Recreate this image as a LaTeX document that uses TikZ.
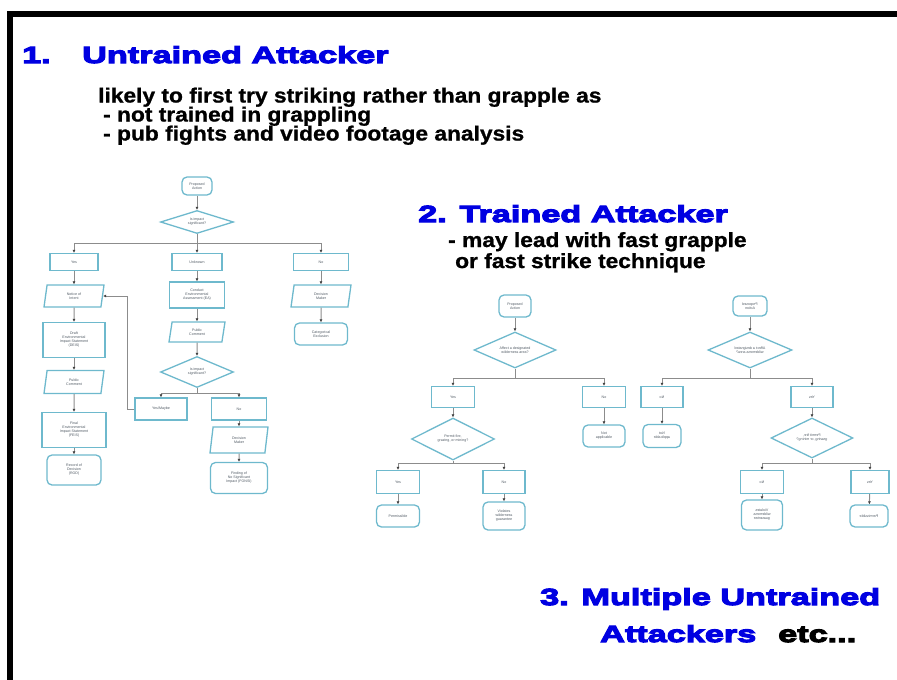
\documentclass[tikz,border=0pt]{standalone}
\usepackage{fontspec}
\setmainfont{Liberation Sans}
\newfontfamily\headfont[FakeStretch=1.47,FakeBold=5]{Liberation Sans}
\newfontfamily\bodyfont[FakeStretch=1.11,FakeBold=1]{Liberation Sans}
\newfontfamily\chartfont{Liberation Sans}
\usetikzlibrary{shapes.geometric,arrows.meta}
\definecolor{headblue}{RGB}{0,0,225}
\definecolor{flowblue}{RGB}{110,185,205}
\definecolor{linkgray}{RGB}{140,140,140}
\definecolor{flowtext}{RGB}{80,90,100}
\tikzset{
  box/.style 2 args={minimum width=#1pt, minimum height=#2pt},
  chart/.style={draw=flowblue, line width=1.3pt, fill=white, text=flowtext, align=center, inner sep=0.5pt,
    font=\chartfont\fontsize{3.6}{4}\selectfont},
  term/.style={chart, rounded corners=5pt},
  proc/.style={chart},
  io/.style={chart, trapezium, trapezium left angle=68, trapezium right angle=112, trapezium stretches body},
  decide/.style={chart, diamond, aspect=3},
  mirror/.style={xscale=-1},
  link/.style={draw=linkgray, line width=1pt},
  head/.style={anchor=base west, inner sep=0pt, text=headblue, font=\headfont\bfseries\fontsize{23.3}{28}\selectfont},
  body/.style={anchor=base west, inner sep=0pt, font=\bodyfont\bfseries\fontsize{20.5}{24}\selectfont},
  >={Latex[length=3pt,width=3pt,color=black!75]}
}
\begin{document}
\begin{tikzpicture}[x=1pt,y=1pt]
\useasboundingbox (0,0) rectangle (897,-680);
% frame
\fill (7,-11) rectangle (897,-17);
\fill (7,-11) rectangle (13,-680);
% headings and notes
\node[head] (n1) at (22,-63) {1.};
\node[head] (h1) at (82,-63) {Untrained Attacker};
\node[body] (t1) at (98,-102.5) {likely to first try striking rather than grapple as};
\node[body] (t2) at (103,-121.5) {- not trained in grappling};
\node[body] (t3) at (103,-140.5) {- pub fights and video footage analysis};
\node[head] (h2) at (418,-222) {2. Trained Attacker};
\node[body] (t4) at (448,-247) {- may lead with fast grapple};
\node[body] (t5) at (455,-268) {or fast strike technique};
\node[head] (h3) at (540,-605) {3. Multiple Untrained};
\node[head] (h4) at (600,-642) {Attackers};
\node[head, text=black] (etc) at (778,-642) {etc...};
% chart 1
\node[term, box={30}{18}] (pa1) at (197,-186) {Proposed\\Action};
\node[decide, box={73}{23}] (d1) at (197,-222) {Is impact\\significant?};
\coordinate (b1) at (197,-243);
\node[proc, box={48}{17}] (yes1) at (74,-262) {Yes};
\node[proc, box={50}{17}] (unk1) at (197,-262) {Unknown};
\node[proc, box={55}{17}] (no1) at (321,-262) {No};
\node[io, box={60}{22}] (noi) at (74,-296) {Notice of\\Intent};
\node[proc, box={62}{35}] (deis) at (74,-340) {Draft\\Environmental\\Impact Statement\\(DEIS)};
\node[io, box={60}{23}] (pub1) at (74,-382) {Public\\Comment};
\node[proc, box={64}{35}] (feis) at (74,-430) {Final\\Environmental\\Impact Statement\\(FEIS)};
\node[term, box={54}{30}] (rod) at (74,-470) {Record of\\Decision\\(ROD)};
\node[proc, box={55}{26}] (ea) at (197,-295) {Conduct\\Environmental\\Assessment (EA)};
\node[io, box={56}{20}] (pub2) at (197,-332) {Public\\Comment};
\node[decide, box={73}{31}] (d2) at (197,-372) {Is impact\\significant?};
\coordinate (b2) at (197,-393);
\node[proc, box={52}{22}] (ym) at (161,-409) {Yes/Maybe};
\node[proc, box={55}{22}] (nm) at (239,-409) {No};
\node[io, box={58}{26}] (dm1) at (239,-440) {Decision\\Maker};
\node[term, box={57}{31}] (fonsi) at (239,-478) {Finding of\\No Significant\\Impact (FONSI)};
\node[io, box={60}{22}] (dm2) at (321,-296) {Decision\\Maker};
\node[term, box={53}{22}] (cex) at (321,-334) {Categorical\\Exclusion};
\draw[link,->] (pa1.south) -- (d1.north);
\draw[link] (d1.south) -- (b1);
\draw[link,->] (b1) -| (yes1.north);
\draw[link,->] (b1) -- (unk1.north);
\draw[link,->] (b1) -| (no1.north);
\draw[link,->] (yes1) -- (noi);
\draw[link,->] (noi) -- (deis);
\draw[link,->] (deis) -- (pub1);
\draw[link,->] (pub1) -- (feis);
\draw[link,->] (feis) -- (rod);
\draw[link,->] (unk1) -- (ea);
\draw[link,->] (ea) -- (pub2);
\draw[link,->] (pub2) -- (d2);
\draw[link] (d2.south) -- (b2);
\draw[link,->] (b2) -| (ym.north);
\draw[link,->] (b2) -| (nm.north);
\draw[link,->] (nm) -- (dm1);
\draw[link,->] (dm1) -- (fonsi);
\draw[link,->] (ym.west) -- ++(-7,0) |- (noi.east);
\draw[link,->] (no1) -- (dm2);
\draw[link,->] (dm2) -- (cex);
% chart 2
\node[term, box={32}{22}] (pa2) at (515,-306) {Proposed\\Action};
\node[decide, box={82}{36}] (d3) at (515,-350) {Affect a designated\\wilderness area?};
\coordinate (b3) at (515,-378);
\node[proc, box={43}{21}] (yes2) at (453,-397) {Yes};
\node[proc, box={43}{21}] (no2) at (604,-397) {No};
\node[term, box={42}{22}] (na2) at (604,-436) {Not\\applicable};
\node[decide, box={83}{42}] (d4) at (453,-439) {Permit fire,\\grazing, or mining?};
\coordinate (b4) at (453,-463);
\node[proc, box={43}{23}] (yes3) at (398,-482) {Yes};
\node[proc, box={42}{23}] (no3) at (504,-482) {No};
\node[term, box={43}{22}] (perm2) at (398,-516) {Permissible};
\node[term, box={42}{28}] (viol2) at (504,-516) {Violates\\wilderness\\guarantee};
\draw[link,->] (pa2) -- (d3);
\draw[link] (d3.south) -- (b3);
\draw[link,->] (b3) -| (yes2.north);
\draw[link,->] (b3) -| (no2.north);
\draw[link,->] (no2) -- (na2);
\draw[link,->] (yes2) -- (d4);
\draw[link] (d4.south) -- (b4);
\draw[link,->] (b4) -| (yes3.north);
\draw[link,->] (b4) -| (no3.north);
\draw[link,->] (yes3) -- (perm2);
\draw[link,->] (no3) -- (viol2);
% chart 3 (mirrored copy)
\node[term, mirror, box={34}{20}] (pa3) at (750,-306) {Proposed\\Action};
\node[decide, mirror, box={84}{36}] (d5) at (750,-350) {Affect a designated\\wilderness area?};
\coordinate (b5) at (750,-378);
\node[proc, mirror, box={42}{21}] (no4) at (662,-397) {No};
\node[proc, mirror, box={42}{21}] (yes4) at (812,-397) {Yes};
\node[term, mirror, box={38}{23}] (na3) at (662,-436) {Not\\applicable};
\node[decide, mirror, box={82}{40}] (d6) at (812,-438) {Permit fire,\\grazing, or mining?};
\coordinate (b6) at (812,-463);
\node[proc, mirror, box={43}{23}] (no5) at (762,-482) {No};
\node[proc, mirror, box={38}{23}] (yes5) at (870,-482) {Yes};
\node[term, mirror, box={41}{30}] (viol3) at (762,-515) {Violates\\wilderness\\guarantee};
\node[term, mirror, box={38}{22}] (perm3) at (869,-516) {Permissible};
\draw[link,->] (pa3) -- (d5);
\draw[link] (d5.south) -- (b5);
\draw[link,->] (b5) -| (no4.north);
\draw[link,->] (b5) -| (yes4.north);
\draw[link,->] (no4) -- (na3);
\draw[link,->] (yes4) -- (d6);
\draw[link] (d6.south) -- (b6);
\draw[link,->] (b6) -| (no5.north);
\draw[link,->] (b6) -| (yes5.north);
\draw[link,->] (no5) -- (viol3);
\draw[link,->] (yes5) -- (perm3);
\end{tikzpicture}
\end{document}
